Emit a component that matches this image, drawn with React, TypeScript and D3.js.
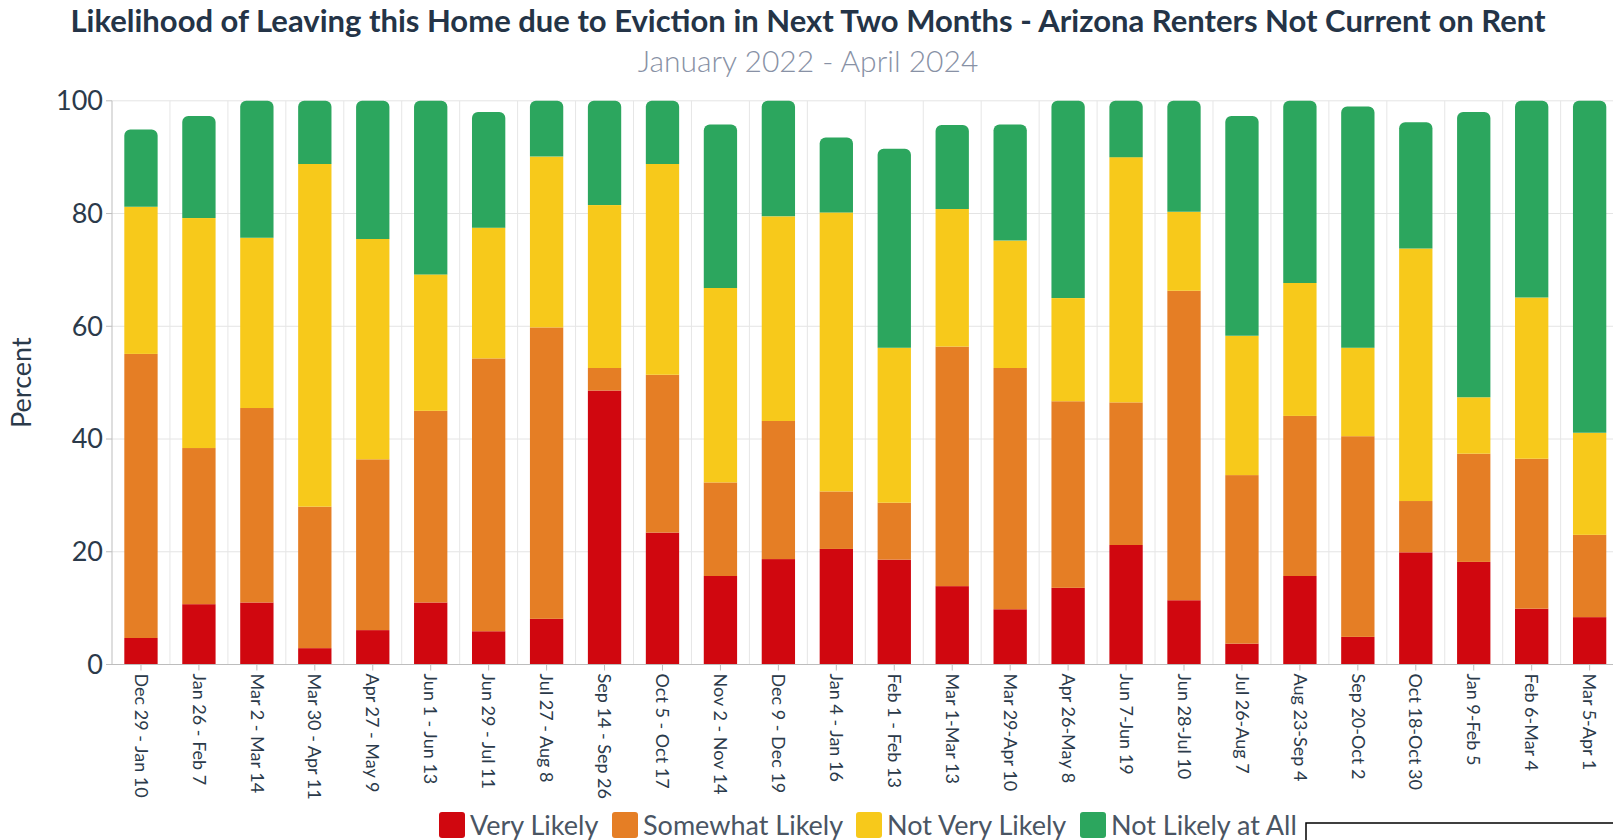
import React, { useEffect } from "react";
import * as d3 from "d3";

const categories = [
  "Dec 29 - Jan 10", "Jan 26 - Feb 7", "Mar 2 - Mar 14", "Mar 30 - Apr 11", "Apr 27 - May 9",
  "Jun 1 - Jun 13", "Jun 29 - Jul 11", "Jul 27 - Aug 8", "Sep 14 - Sep 26", "Oct 5 - Oct 17",
  "Nov 2 - Nov 14", "Dec 9 - Dec 19", "Jan 4 - Jan 16", "Feb 1 - Feb 13", "Mar 1-Mar 13",
  "Mar 29-Apr 10", "Apr 26-May 8", "Jun 7-Jun 19", "Jun 28-Jul 10", "Jul 26-Aug 7",
  "Aug 23-Sep 4", "Sep 20-Oct 2", "Oct 18-Oct 30", "Jan 9-Feb 5", "Feb 6-Mar 4", "Mar 5-Apr 1",
];

const veryLikely = [4.7, 10.7, 11.0, 2.9, 6.1, 11.0, 5.9, 8.1, 48.6, 23.4, 15.7, 18.7, 20.5, 18.6, 13.9, 9.8, 13.6, 21.2, 11.4, 3.7, 15.7, 4.9, 19.9, 18.2, 9.9, 8.4];
const somewhatLikely = [50.4, 27.7, 34.5, 25.1, 30.3, 34.0, 48.4, 51.7, 4.0, 28.0, 16.6, 24.5, 10.2, 10.1, 42.5, 42.8, 33.1, 25.3, 54.9, 29.9, 28.4, 35.6, 9.1, 19.2, 26.6, 14.6];
const notVeryLikely = [26.1, 40.8, 30.2, 60.8, 39.1, 24.2, 23.2, 30.3, 28.9, 37.4, 34.5, 36.3, 49.5, 27.5, 24.4, 22.6, 18.3, 43.5, 14.0, 24.7, 23.6, 15.7, 44.8, 10.0, 28.6, 18.1];
const notLikelyAtAll = [13.7, 18.1, 24.3, 11.2, 24.5, 30.8, 20.5, 9.9, 18.5, 11.2, 29.0, 20.5, 13.3, 35.3, 14.9, 20.6, 35.0, 10.0, 19.7, 39.0, 32.3, 42.8, 22.4, 50.6, 34.9, 58.9];

const seriesNames = ["Very Likely", "Somewhat Likely", "Not Very Likely", "Not Likely at All"];
const seriesColors = ["#d0070f", "#e57e25", "#f7c91b", "#2ca65e"];
const yTicks = [0, 20, 40, 60, 80, 100];

const W = 1613;
const H = 840;
const FONT = "Lato, 'Open Sans', sans-serif";
const DARK = "#2b3a4a";

function roundTopRect(x: number, y: number, w: number, h: number, r: number) {
  const rr = Math.min(r, h, w / 2);
  const p = d3.path();
  p.moveTo(x, y + h);
  p.lineTo(x, y + rr);
  p.arcTo(x, y, x + rr, y, rr);
  p.lineTo(x + w - rr, y);
  p.arcTo(x + w, y, x + w, y + rr, rr);
  p.lineTo(x + w, y + h);
  p.closePath();
  return p.toString();
}

export default function App() {
  useEffect(() => {
    document.body.style.margin = "0";
    document.body.style.overflow = "hidden";
  }, []);

  const x = d3.scaleBand<string>().domain(categories).range([112, 1618.6]).paddingInner(0.425).paddingOuter(0.2125);
  const y = d3.scaleLinear().domain([0, 100]).range([664.5, 100.8]);
  const series = [veryLikely, somewhatLikely, notVeryLikely, notLikelyAtAll];
  const table = categories.map((c, i) => {
    const row: any = { cat: c };
    seriesNames.forEach((n, k) => (row[n] = series[k][i]));
    return row;
  });
  const stacked = d3.stack().keys(seriesNames)(table as any);
  const step = x.step();
  const bw = x.bandwidth();

  const legendX = [439, 612, 856, 1080];

  return (
    <svg width={W} height={H} style={{ display: "block", background: "#fff" }} fontFamily={FONT}>
      <text x={808} y={32} textAnchor="middle" fontSize={31} fontWeight={700} fill="#243447">
        Likelihood of Leaving this Home due to Eviction in Next Two Months - Arizona Renters Not Current on Rent
      </text>
      <text x={808} y={72} textAnchor="middle" fontSize={30} fontWeight={300} fill="#8891a5">
        January 2022 - April 2024
      </text>

      {yTicks.map((t) => (
        <line key={"hg" + t} x1={112} x2={W} y1={y(t)} y2={y(t)} stroke="#e4e4e4" strokeWidth={1} />
      ))}
      {categories.map((c, i) => (
        <line key={"vg" + i} x1={112 + step * (i + 1)} x2={112 + step * (i + 1)} y1={y(100)} y2={y(0)} stroke="#e6e6e6" strokeWidth={1} />
      ))}

      {stacked.map((s, k) => (
        <g key={seriesNames[k]} fill={seriesColors[k]}>
          {s.map((d, i) => {
            const x0 = x(categories[i]) as number;
            const y0 = y(d[1]);
            const h = y(d[0]) - y(d[1]);
            if (k === stacked.length - 1) {
              return <path key={i} d={roundTopRect(x0, y0, bw, h, 6)} />;
            }
            return <rect key={i} x={x0} y={y0} width={bw} height={h} />;
          })}
        </g>
      ))}

      <line x1={112} x2={112} y1={y(100)} y2={y(0)} stroke="#bdbdbd" strokeWidth={1} />
      {yTicks.map((t) => (
        <g key={"yt" + t}>
          <line x1={106} x2={112} y1={y(t)} y2={y(t)} stroke="#bdbdbd" />
          <text x={103} y={y(t)} dy="0.35em" textAnchor="end" fontSize={27} fill={DARK}>
            {t}
          </text>
        </g>
      ))}
      <text transform={`translate(31, ${y(50)}) rotate(-90)`} textAnchor="middle" fontSize={27} fill={DARK}>
        Percent
      </text>

      <line x1={112} x2={W} y1={y(0)} y2={y(0)} stroke="#bdbdbd" strokeWidth={1} />
      {categories.map((c) => {
        const cx = (x(c) as number) + bw / 2;
        return (
          <g key={"xt" + c}>
            <line x1={cx} x2={cx} y1={y(0)} y2={y(0) + 6} stroke="#bdbdbd" />
            <text transform={`translate(${cx}, ${y(0) + 9}) rotate(90)`} dy="0.35em" textAnchor="start" fontSize={18} fill={DARK}>
              {c}
            </text>
          </g>
        );
      })}

      {seriesNames.map((n, k) => (
        <g key={"lg" + n} transform={`translate(${legendX[k]}, 812)`}>
          <rect x={0} y={0} width={26} height={26} rx={3} fill={seriesColors[k]} />
          <text x={31} y={13} dy="0.36em" fontSize={27} fill="#4a5563">
            {n}
          </text>
        </g>
      ))}

      <rect x={1306} y={823} width={320} height={40} fill="none" stroke="#000" strokeWidth={1.5} />
    </svg>
  );
}
